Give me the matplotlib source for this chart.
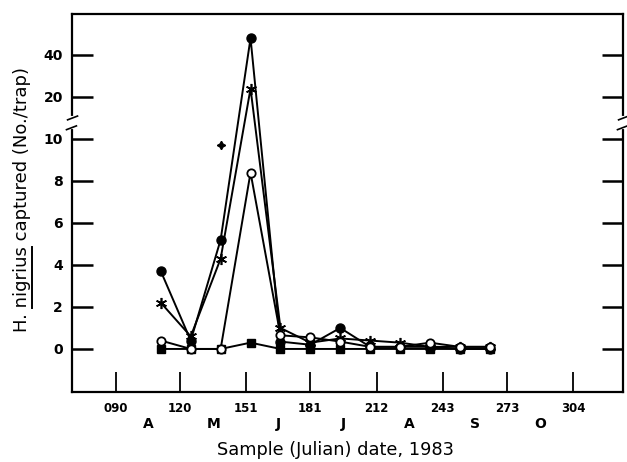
import matplotlib
matplotlib.use("Agg")
import matplotlib.pyplot as plt
import numpy as np
from matplotlib.lines import Line2D
from matplotlib.transforms import IdentityTransform

plt.rcParams["font.family"] = ["DejaVu Sans"]

# sample dates (Julian day, 1983)
days = [111, 125, 139, 153, 167, 181, 195, 209, 223, 237, 251, 265]
filled_circle = [3.7, 0.4, 5.2, 48.0, 0.35, 0.2, 1.0, 0.1, 0.1, 0.1, 0.0, 0.0]
asterisk = [2.2, 0.6, 4.3, 24.0, 1.0, 0.3, 0.5, 0.4, 0.3, 0.1, 0.1, 0.1]
open_circle = [0.4, 0.0, 0.0, 8.4, 0.65, 0.55, 0.35, 0.1, 0.1, 0.3, 0.1, 0.1]
filled_square = [0.0, 0.0, 0.0, 0.3, 0.0, 0.0, 0.0, 0.0, 0.0, 0.0, 0.0, 0.0]
lone_day, lone_val = [139], [9.7]

xticks = [90, 120, 151, 181, 212, 243, 273, 304]
xticklabels = ["090", "120", "151", "181", "212", "243", "273", "304"]
months = ["A", "M", "J", "J", "A", "S", "O"]
month_mid = [105, 135.5, 166, 196.5, 227.5, 258, 288.5]
yticks = [0, 2, 4, 6, 8, 10, 20, 40]


def fwd(y):
    y = np.asarray(y, dtype=float)
    return np.where(y <= 10, y, np.where(y <= 20, 10 + (y - 10) * 0.2, 12 + (y - 20) * 0.1))


def inv(f):
    f = np.asarray(f, dtype=float)
    return np.where(f <= 10, f, np.where(f <= 12, 10 + (f - 10) * 5, 20 + (f - 12) * 10))


fig = plt.figure(figsize=(6.27, 4.62), dpi=100)
ax = fig.add_axes([72 / 627, 70 / 462, 551 / 627, 378 / 462])
ax.set_yscale("function", functions=(fwd, inv))

lw = 1.4
ax.plot(days, filled_circle, "-", color="k", lw=lw, marker="o", ms=6.5, mfc="k", mec="k", zorder=4)
ax.plot(days, asterisk, "-", color="k", lw=lw, marker=(6, 2, 0), ms=8, mew=1.2, mec="k", zorder=4)
ax.plot(days, open_circle, "-", color="k", lw=lw, marker="o", ms=6, mfc="white", mec="k", mew=1.3, zorder=5)
ax.plot(days, filled_square, "-", color="k", lw=lw, marker="s", ms=5.5, mfc="k", mec="k", zorder=3)
ax.plot(lone_day, lone_val, ls="none", marker=(4, 1, 0), ms=6, color="k", zorder=4)

ax.set_xlim(69.4, 327.4)
ax.set_ylim(-2.05, 59.5)
ax.set_xticks(xticks)
ax.set_xticklabels(xticklabels, fontsize=8.5, fontweight="bold")
ax.set_yticks(yticks)
ax.set_yticklabels([str(v) for v in yticks], fontsize=10, fontweight="bold")
ax.minorticks_off()
ax.tick_params(axis="x", direction="in", length=14.5, width=1.3, pad=7, top=False)
ax.tick_params(axis="y", direction="in", length=15, width=1.8, pad=6.5, left=True, right=True)
for s in ax.spines.values():
    s.set_linewidth(1.6)

# axis break marks between 10 and 20
for xa in (0, 1):
    ax.plot([xa, xa], [0.700, 0.724], transform=ax.transAxes, color="white", lw=3,
            clip_on=False, zorder=6)
    ax.plot([xa - 0.010, xa + 0.008], [0.694, 0.704], transform=ax.transAxes, color="k",
            lw=1.2, clip_on=False, zorder=7)
    ax.plot([xa - 0.008, xa + 0.010], [0.720, 0.730], transform=ax.transAxes, color="k",
            lw=1.2, clip_on=False, zorder=7)

for m, xm in zip(months, month_mid):
    ax.text(xm, -0.085, m, transform=ax.get_xaxis_transform(), ha="center", va="center",
            fontsize=10, fontweight="bold")

fig.text(335 / 627, 1 - 450 / 462, "Sample (Julian) date, 1983", ha="center", va="center",
         fontsize=12.8)

ylab = "H. nigrius captured (No./trap)"
t = fig.text(22 / 627, 1 - 200 / 462, ylab, rotation=90, ha="center", va="center", fontsize=13)

# underline "nigrius"
renderer = fig.canvas.get_renderer()
bb = t.get_window_extent(renderer)
prop = t.get_fontproperties()
w_n = renderer.get_text_width_height_descent("n", prop, ismath=False)[0]
w_pre = renderer.get_text_width_height_descent("H. n", prop, ismath=False)[0] - w_n
w_word = renderer.get_text_width_height_descent("H. nigrius", prop, ismath=False)[0]
ux = bb.x1 + 1
fig.add_artist(Line2D([ux, ux], [bb.y0 + w_pre, bb.y0 + w_word], transform=IdentityTransform(),
                      color="k", lw=1.4))

fig.savefig("out.png", dpi=100)
